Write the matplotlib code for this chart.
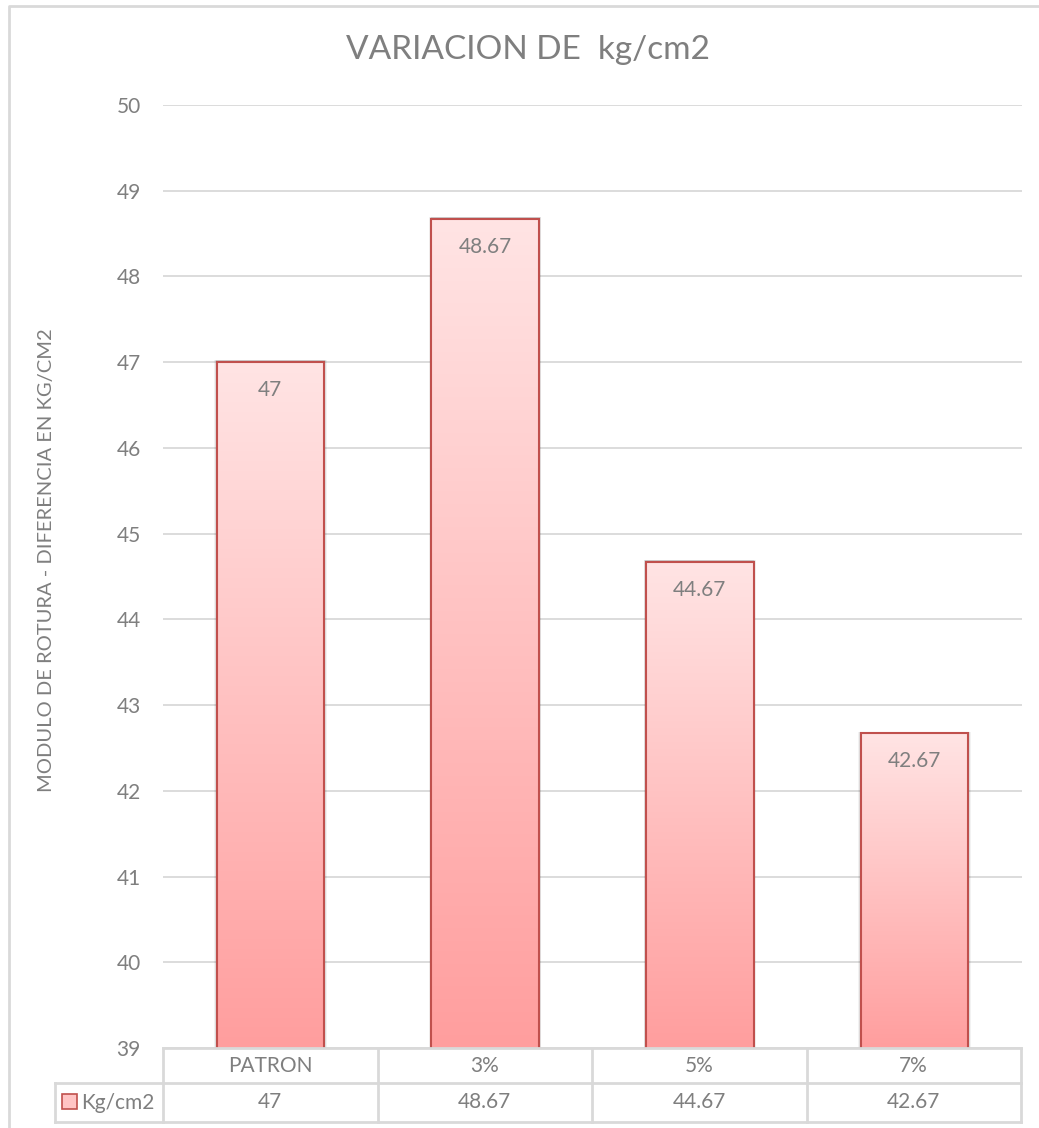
import numpy as np
import matplotlib.pyplot as plt
from matplotlib.colors import LinearSegmentedColormap
from matplotlib.patches import Rectangle
from matplotlib.lines import Line2D

# datos del ensayo
categorias = ['PATRON', '3%', '5%', '7%']
valores = [47, 48.67, 44.67, 42.67]
serie = 'Kg/cm2'
ticks_y = list(range(39, 51))

gris = '#7F7F7F'
linea = '#D9D9D9'
borde = '#C0504D'

plt.rcParams['font.family'] = ['Lato', 'DejaVu Sans']

W, H = 1039, 1128
def fx(x):
    return x / W
def fy(y):
    return 1 - y / H

fig = plt.figure(figsize=(W/100, H/100), dpi=100)
ax = fig.add_axes([fx(163), fy(1048), fx(1022) - fx(163), fy(105) - fy(1048)])

# barras con degradado (claro arriba, oscuro abajo)
degradado = LinearSegmentedColormap.from_list('rosa', ['#FF9E9E', '#FFE4E4'])
grad = np.linspace(0, 1, 256).reshape(-1, 1)
x = np.arange(len(categorias))
ancho = 0.5
for xi, v in zip(x, valores):
    # sombra suave
    for k, a in [(0.012, 0.05), (0.008, 0.07), (0.004, 0.09)]:
        ax.add_patch(Rectangle((xi - ancho/2 - k, 39), ancho + 2*k, v - 39 + 0.02,
                               facecolor='black', alpha=a, edgecolor='none', zorder=1.5))
    ax.imshow(grad, cmap=degradado, origin='lower', aspect='auto',
              extent=[xi - ancho/2, xi + ancho/2, 39, v], zorder=2)
ax.bar(x, valores, width=ancho, facecolor='none', edgecolor=borde, linewidth=1.5, zorder=3)

for xi, v in zip(x, valores):
    ax.annotate(f'{v:g}', (xi, v), xytext=(0, -20), textcoords='offset points',
                ha='center', va='center', color=gris, fontsize=15, zorder=4)

ax.set_xlim(-0.5, len(categorias) - 0.5)
ax.set_ylim(39, 50)
ax.set_yticks(ticks_y)
ax.set_xticks([])
ax.tick_params(axis='y', length=0, pad=16, labelsize=15, labelcolor=gris)
ax.grid(axis='y', color=linea, linewidth=1.3)
ax.set_axisbelow(True)
for s in ax.spines.values():
    s.set_visible(False)

# titulo y eje
fig.text(fx(528), fy(50), 'VARIACION DE  kg/cm2', ha='center', va='center',
         fontsize=24, color=gris)
fig.text(fx(47), fy(560), 'MODULO DE ROTURA - DIFERENCIA EN KG/CM2', rotation=90,
         ha='center', va='center', fontsize=14.5, color=gris)

# tabla de datos bajo el grafico
x0, x1 = 163, 1021
xl = 55
y0, y1, y2 = 1048, 1083, 1122
colw = (x1 - x0) / len(categorias)

def seg(xa, ya, xb, yb):
    fig.add_artist(Line2D([fx(xa), fx(xb)], [fy(ya), fy(yb)], color=linea, linewidth=2))

seg(x0, y0, x1, y0)
seg(xl, y1, x1, y1)
seg(xl, y2, x1, y2)
seg(xl, y1, xl, y2)
for i in range(len(categorias) + 1):
    seg(x0 + i*colw, y0, x0 + i*colw, y2)

for i, (c, v) in enumerate(zip(categorias, valores)):
    cx = x0 + (i + 0.5) * colw
    fig.text(fx(cx), fy((y0 + y1) / 2), c, ha='center', va='center', fontsize=15, color=gris)
    fig.text(fx(cx), fy((y1 + y2) / 2), f'{v:g}', ha='center', va='center', fontsize=15, color=gris)

fig.add_artist(Rectangle((fx(62), fy(1109)), fx(15), 15/H, facecolor='#FFC4C4',
                         edgecolor=borde, linewidth=1.2))
fig.text(fx(81), fy(1103), serie, ha='left', va='center', fontsize=15, color=gris)

# marco exterior
fig.add_artist(Line2D([fx(8.5), fx(8.5), fx(1045)], [fy(1135), fy(5.5), fy(5.5)],
                      color=linea, linewidth=2))

fig.savefig('out.png', dpi=100)
